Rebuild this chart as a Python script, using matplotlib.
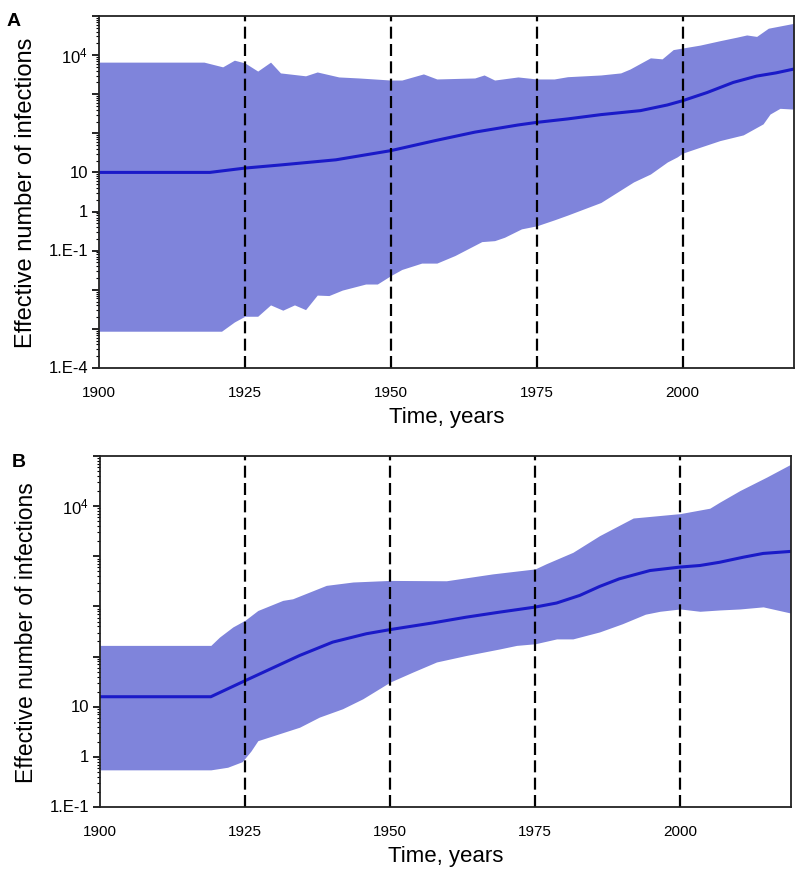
import numpy as np
import matplotlib
matplotlib.use('agg')
import matplotlib.pyplot as plt
from matplotlib.ticker import LogLocator, NullFormatter

plt.rcParams['font.family'] = ['Liberation Sans', 'DejaVu Sans']
plt.rcParams['mathtext.fontset'] = 'custom'
plt.rcParams['mathtext.rm'] = 'Liberation Sans'

## Panel A
a_up_yr = [1900, 1918, 1921.2, 1923.2, 1925, 1927.2, 1929.4, 1931.1, 1935.4, 1937.4, 1941.1, 1944.5,
           1950, 1951.9, 1955.6, 1957.9, 1964.4, 1966, 1967.8, 1971.8, 1975, 1978, 1980.3, 1986,
           1989.4, 1991, 1994.5, 1996.5, 1998.4, 2003, 2006.4, 2009.3, 2011, 2012.7, 2014.7, 2019.1]
a_up = [6600, 6600, 5000, 7400, 6300, 3900, 6600, 3500, 2950, 3700, 2760, 2600,
        2300, 2300, 3300, 2450, 2600, 3100, 2300, 2760, 2450, 2450, 2800, 3100,
        3500, 4400, 8500, 8000, 13800, 18000, 23300, 28700, 32700, 30000, 48600, 65000]

a_lo_yr = [1900, 1921, 1923.2, 1925, 1927.2, 1929.4, 1931.5, 1933.5, 1935.4, 1937.4, 1939.4, 1941.7,
           1945.7, 1947.7, 1950, 1951.9, 1955.3, 1957.9, 1961, 1965.6, 1967.8, 1969.5, 1972.4, 1975,
           1978, 1980.3, 1986, 1991.6, 1994.5, 1997.4, 1999.1, 2000, 2003, 2006.4, 2010.4, 2013.8,
           2015, 2016.7, 2019.1]
a_lo = [8.7e-4, 8.7e-4, 1.5e-3, 2.1e-3, 2.1e-3, 4.1e-3, 3.0e-3, 4.1e-3, 3.1e-3, 7.3e-3, 7.1e-3, 9.8e-3,
        0.014, 0.014, 0.023, 0.033, 0.048, 0.048, 0.075, 0.17, 0.18, 0.22, 0.36, 0.43,
        0.61, 0.81, 1.7, 5.7, 9.1, 18.5, 25, 31, 44, 65, 91, 174,
        311, 435, 415]

a_med_yr = [1900, 1919, 1925, 1931.1, 1940.6, 1950, 1957.6, 1964.4, 1971.8, 1975, 1980.3, 1986,
            1992.8, 1997.4, 2000, 2004.2, 2008.7, 2012.7, 2016, 2019.1]
a_med = [10, 10, 12.9, 15.5, 21, 36, 65, 107, 163, 190, 233, 300,
         380, 530, 680, 1100, 2000, 2900, 3500, 4400]

## Panel B
b_up_yr = [1900, 1919.1, 1920.6, 1922.9, 1925, 1927.2, 1931.5, 1933.2, 1939, 1943.6, 1950, 1959.7,
           1967.7, 1975, 1976.9, 1981.5, 1986.1, 1991.9, 2000, 2005.1, 2006.8, 2010.3, 2014.9, 2019]
b_up = [167, 167, 245, 390, 530, 830, 1320, 1420, 2630, 3070, 3300, 3250,
        4460, 5600, 7100, 12000, 25800, 58000, 71000, 91000, 120000, 205000, 380000, 680000]

b_lo_yr = [1900, 1919.1, 1922, 1924.5, 1926, 1927.2, 1934.4, 1937.8, 1941.8, 1945.3, 1950, 1953.9,
           1958, 1963.1, 1968.9, 1971.8, 1975, 1978.7, 1981.5, 1986.1, 1990, 1994, 1996.5, 2000,
           2003.4, 2006.8, 2010.3, 2014.3, 2019]
b_lo = [0.55, 0.55, 0.62, 0.8, 1.3, 2.1, 3.9, 6.2, 9.1, 14.4, 31, 49,
        78, 105, 142, 167, 180, 225, 225, 310, 450, 700, 800, 890,
        800, 850, 890, 980, 740]

b_med_yr = [1900, 1919.1, 1925, 1934.4, 1940.1, 1945.9, 1950, 1957.4, 1963.1, 1968.9, 1975, 1978.7,
            1982.7, 1986.1, 1989.5, 1994.8, 2000, 2003.4, 2006.8, 2010.9, 2014.3, 2019]
b_med = [15.8, 15.8, 33, 105, 194, 285, 345, 470, 610, 770, 970, 1170,
         1660, 2500, 3550, 5200, 6100, 6550, 7600, 9600, 11400, 12500]

events = [1925, 1950, 1975, 2000]
xticks = [1900, 1925, 1950, 1975, 2000]

fill_col = '#7f84db'
line_col = '#1a1ac8'

fig = plt.figure(figsize=(7.97, 8.70), dpi=100)
axA = fig.add_axes([0.1242, 0.5759, 0.8720, 0.4046])
axB = fig.add_axes([0.1255, 0.0713, 0.8670, 0.4034])

def draw(ax, up_yr, up, lo_yr, lo, med_yr, med, xlim, ylim, ytick_pos, ytick_lab, ylab_size):
    # put both edges on one year grid so fill_between can take them
    yrs = np.union1d(up_yr, lo_yr)
    upper = np.exp(np.interp(yrs, up_yr, np.log(up)))
    lower = np.exp(np.interp(yrs, lo_yr, np.log(lo)))
    ax.fill_between(yrs, lower, upper, color=fill_col, lw=0)
    ax.plot(med_yr, med, color=line_col, lw=2.2)
    for e in events:
        ax.axvline(e, color='black', lw=1.6, ls=(0, (5.4, 2.4)))
    ax.set_yscale('log')
    ax.set_xlim(*xlim)
    ax.set_ylim(*ylim)
    ax.set_xticks(xticks)
    ax.tick_params(axis='x', length=0, pad=12, labelsize=11)
    ax.yaxis.set_major_locator(LogLocator(base=10, numticks=20))
    ax.yaxis.set_major_formatter(NullFormatter())
    ax.yaxis.set_minor_locator(LogLocator(base=10, subs=np.arange(2, 10), numticks=20))
    ax.yaxis.set_minor_formatter(NullFormatter())
    ax.tick_params(axis='y', which='major', length=5, width=1.2)
    ax.tick_params(axis='y', which='minor', length=2.5, width=0.8)
    for p, l in zip(ytick_pos, ytick_lab):
        ax.annotate(l, xy=(0, p), xycoords=('axes fraction', 'data'), xytext=(-8, 0),
                    textcoords='offset points', ha='right', va='center', fontsize=12)
    for s in ax.spines.values():
        s.set_linewidth(1.3)
        s.set_color('#222222')
    ax.set_ylabel('Effective number of infections', fontsize=ylab_size, labelpad=36)
    ax.set_xlabel('Time, years', fontsize=16, labelpad=5)

draw(axA, a_up_yr, a_up, a_lo_yr, a_lo, a_med_yr, a_med, (1900.6, 2019.1), (1e-4, 1e5),
     [1e-4, 0.1, 1, 10, 1e4], ['1.E-4', '1.E-1', '1', '10', r'$\mathregular{10^4}$'], 17)
draw(axB, b_up_yr, b_up, b_lo_yr, b_lo, b_med_yr, b_med, (1900, 2019.1), (0.1, 1e6),
     [0.1, 1, 10, 1e5], ['1.E-1', '1', '10', r'$\mathregular{10^4}$'], 16.5)

fig.text(0.008, 0.985, 'A', fontsize=14, fontweight='bold', va='top')
fig.text(0.015, 0.478, 'B', fontsize=14, fontweight='bold', va='top')

fig.savefig('out.png', dpi=100)
